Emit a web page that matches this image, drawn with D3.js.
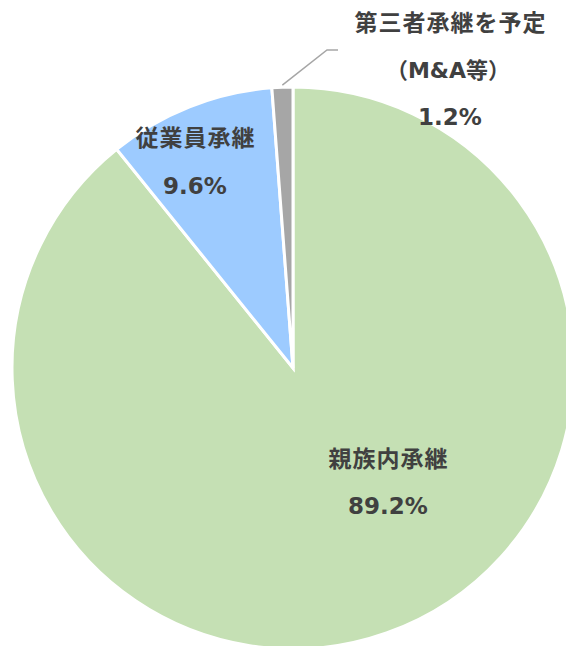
<!DOCTYPE html>
<html><head><meta charset="utf-8">
<script src="https://cdn.jsdelivr.net/npm/d3@7"></script>
<style>html,body{margin:0;padding:0;background:#fff;overflow:hidden}</style>
</head><body><svg id="c" width="566" height="646"></svg>
<script>
const categories = ["親族内承継", "従業員承継", "第三者承継を予定（M&A等）"];
const values = [89.2, 9.6, 1.2];
const valueLabels = ["89.2%", "9.6%", "1.2%"];
const colors = ["#C5E0B4", "#9DCBFF", "#A6A6A6"];

const svg = d3.select("#c");
const cx = 293, cy = 368, R = 281;
const g = svg.append("g").attr("transform", `translate(${cx},${cy})`);
const pie = d3.pie().sort(null).value(d => d)(values);
const arc = d3.arc().innerRadius(0).outerRadius(R);
g.selectAll("path").data(pie).join("path")
  .attr("d", arc).attr("fill", (d, i) => colors[i])
  .attr("stroke", "#fff").attr("stroke-width", 3).attr("stroke-linejoin", "miter");

// leader line for small slice
const small = pie[2];
const mid = (small.startAngle + small.endAngle) / 2;
const p0 = [Math.sin(mid) * (R + 2), -Math.cos(mid) * (R + 2)];
svg.append("polyline")
  .attr("points", [[cx + p0[0], cy + p0[1]], [327, 50], [338, 50]].map(p => p.join(",")).join(" "))
  .attr("fill", "none").attr("stroke", "#A6A6A6").attr("stroke-width", 1.5);

const font = "'DejaVu Sans', 'Noto Sans CJK JP', sans-serif";
const txt = (x, y, s, size, ls) => svg.append("text").attr("x", x + ls / 2).attr("y", y)
  .attr("text-anchor", "middle").attr("dominant-baseline", "central")
  .attr("font-family", font).attr("font-weight", "bold").attr("font-size", size)
  .attr("letter-spacing", ls).attr("fill", "#404040").text(s);

txt(388, 459, categories[0], 23, 1);
txt(388, 506, valueLabels[0], 23, 0);
txt(195, 138, categories[1], 23, 1);
txt(195, 186, valueLabels[1], 23, 0);
txt(450, 23, "第三者承継を予定", 23, 1);
txt(448, 70, "（M&A等）", 22, 0);
txt(450, 117, valueLabels[2], 23, 0);
</script></body></html>
